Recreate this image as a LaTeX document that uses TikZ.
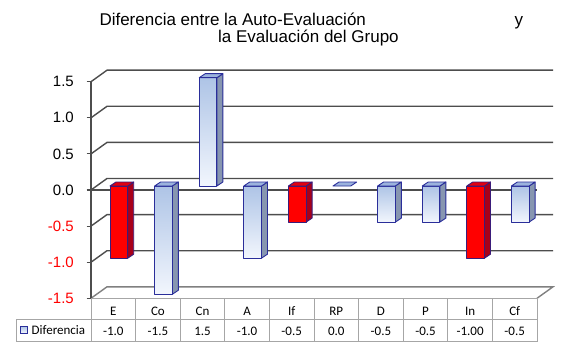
\documentclass[tikz,border=0pt]{standalone}
\usepackage{fontspec}
\setmainfont{Liberation Sans}
\newfontfamily\calib{Carlito}
\definecolor{gridc}{HTML}{4D4D4D}
\definecolor{floorc}{HTML}{808080}
\definecolor{tabc}{HTML}{A6A6A6}
\definecolor{navy}{HTML}{2A2E9A}
\definecolor{redout}{HTML}{3A1C7A}
\definecolor{bfront1}{HTML}{AEC4E6}
\definecolor{bfront2}{HTML}{F2F6FD}
\definecolor{bside}{HTML}{8796B0}
\definecolor{btop}{HTML}{9CB3DD}
\definecolor{rfront}{HTML}{FF0000}
\definecolor{rside}{HTML}{A8001A}
\definecolor{rtop}{HTML}{E00010}
\definecolor{axred}{HTML}{FF0000}
\begin{document}
\begin{tikzpicture}[x=1pt,y=-1pt,
  gridline/.style={draw=gridc,line width=1.4pt},
  floorline/.style={draw=floorc,line width=1.4pt},
  axisline/.style={draw=gridc,line width=1.2pt},
  tabline/.style={draw=tabc,line width=1pt},
  barout/.style={line width=0.9pt,line join=round},
  axlab/.style={anchor=east,font=\fontsize{15}{15}\selectfont,inner sep=0pt},
  tablab/.style={font=\calib\fontsize{13}{13}\selectfont,inner sep=0pt},
  titlefont/.style={font=\fontsize{17}{17}\selectfont,inner sep=0pt,anchor=base west}]
\useasboundingbox (0,0) rectangle (565,342);
% title
\node[titlefont] (t1) at (99.3,26) {Diferencia entre la Auto-Evaluación};
\node[titlefont] (t1y) at (514.5,26) {y};
\node[titlefont] (t2) at (218,43) {la Evaluación del Grupo};
% grid
\foreach \v in {1.5,1,0.5,0,-0.5,-1}{
  \pgfmathsetmacro{\yy}{190-72.2*\v}
  \draw[gridline] (91,\yy) -- (107,\yy-11.5) -- (553,\yy-11.5);
  \draw[axisline] (86.5,\yy) -- (91,\yy);
}
\draw[floorline] (91,298.3) -- (107,286.8) -- (553,286.8) -- (537,298.3);
\draw[axisline] (86.5,298.3) -- (91,298.3);
\draw[gridline] (91,190) -- (537,190);
\draw[axisline] (91,81.7) -- (91,298.3);
% axis labels
\foreach \v/\t in {1.5/1.5,1/1.0,0.5/0.5,0/0.0}{
  \pgfmathsetmacro{\yy}{190-72.2*\v}
  \node[axlab] (ax\t) at (74,\yy) {\t};
}
\foreach \v/\t in {-0.5/-0.5,-1/-1.0,-1.5/-1.5}{
  \pgfmathsetmacro{\yy}{190-72.2*\v}
  \node[axlab,text=axred] (ax\t) at (74,\yy) {\t};
}
% bars
\foreach \i/\v/\c in {0/-1.0/1,1/-1.5/0,2/1.5/0,3/-1.0/0,4/-0.5/1,5/0/0,6/-0.5/0,7/-0.5/0,8/-1.0/1,9/-0.5/0}{
  \pgfmathsetmacro{\xa}{91+44.6*\i+19}
  \pgfmathsetmacro{\xb}{\xa+17.7}
  \pgfmathsetmacro{\yv}{190-72.2*\v-4}
  \pgfmathsetmacro{\ytop}{min(\yv,186)}
  \pgfmathsetmacro{\ybot}{max(\yv,186)}
  \ifnum\c=1
    \filldraw[barout,fill=rside,draw=redout] (\xb,\ytop) -- (\xb+6,\ytop-4) -- (\xb+6,\ybot-4) -- (\xb,\ybot) -- cycle;
    \filldraw[barout,fill=rfront,draw=redout] (\xa,\ytop) rectangle (\xb,\ybot);
    \filldraw[barout,fill=rtop,draw=redout] (\xa,\ytop) -- (\xb,\ytop) -- (\xb+6,\ytop-4) -- (\xa+6,\ytop-4) -- cycle;
  \else
    \ifdim\v pt=0pt
      \filldraw[barout,fill=btop,draw=navy] (\xa,\ytop) -- (\xb,\ytop) -- (\xb+6,\ytop-4) -- (\xa+6,\ytop-4) -- cycle;
    \else
      \filldraw[barout,fill=bside,draw=navy] (\xb,\ytop) -- (\xb+6,\ytop-4) -- (\xb+6,\ybot-4) -- (\xb,\ybot) -- cycle;
      \shade[top color=bfront1,bottom color=bfront2] (\xa,\ytop) rectangle (\xb,\ybot);
      \draw[barout,draw=navy] (\xa,\ytop) rectangle (\xb,\ybot);
      \filldraw[barout,fill=btop,draw=navy] (\xa,\ytop) -- (\xb,\ytop) -- (\xb+6,\ytop-4) -- (\xa+6,\ytop-4) -- cycle;
    \fi
  \fi
}
% table
\draw[tabline] (91,298.3) -- (537,298.3);
\draw[tabline] (16,319) -- (537,319);
\draw[tabline] (16,341.5) -- (537,341.5);
\draw[tabline] (16,319) -- (16,342);
\foreach \k in {0,...,10}{
  \draw[tabline] (91+44.6*\k,298.3) -- (91+44.6*\k,342);
}
\foreach \i/\n/\val in {0/E/-1.0,1/Co/-1.5,2/Cn/1.5,3/A/-1.0,4/If/-0.5,5/RP/0.0,6/D/-0.5,7/P/-0.5,8/In/-1.00,9/Cf/-0.5}{
  \node[tablab] (cat\i) at (91+44.6*\i+22.3,311) {\n};
  \node[tablab] (val\i) at (91+44.6*\i+22.3,331) {\val};
}
\filldraw[draw=navy,line width=1pt,top color=bfront1,bottom color=bfront2] (20.5,326.5) rectangle (27,333);
\draw[draw=navy,line width=1pt] (20.5,326.5) rectangle (27,333);
\node[tablab,anchor=west] (leg) at (31.5,330.5) {Diferencia};
\end{tikzpicture}
\end{document}
